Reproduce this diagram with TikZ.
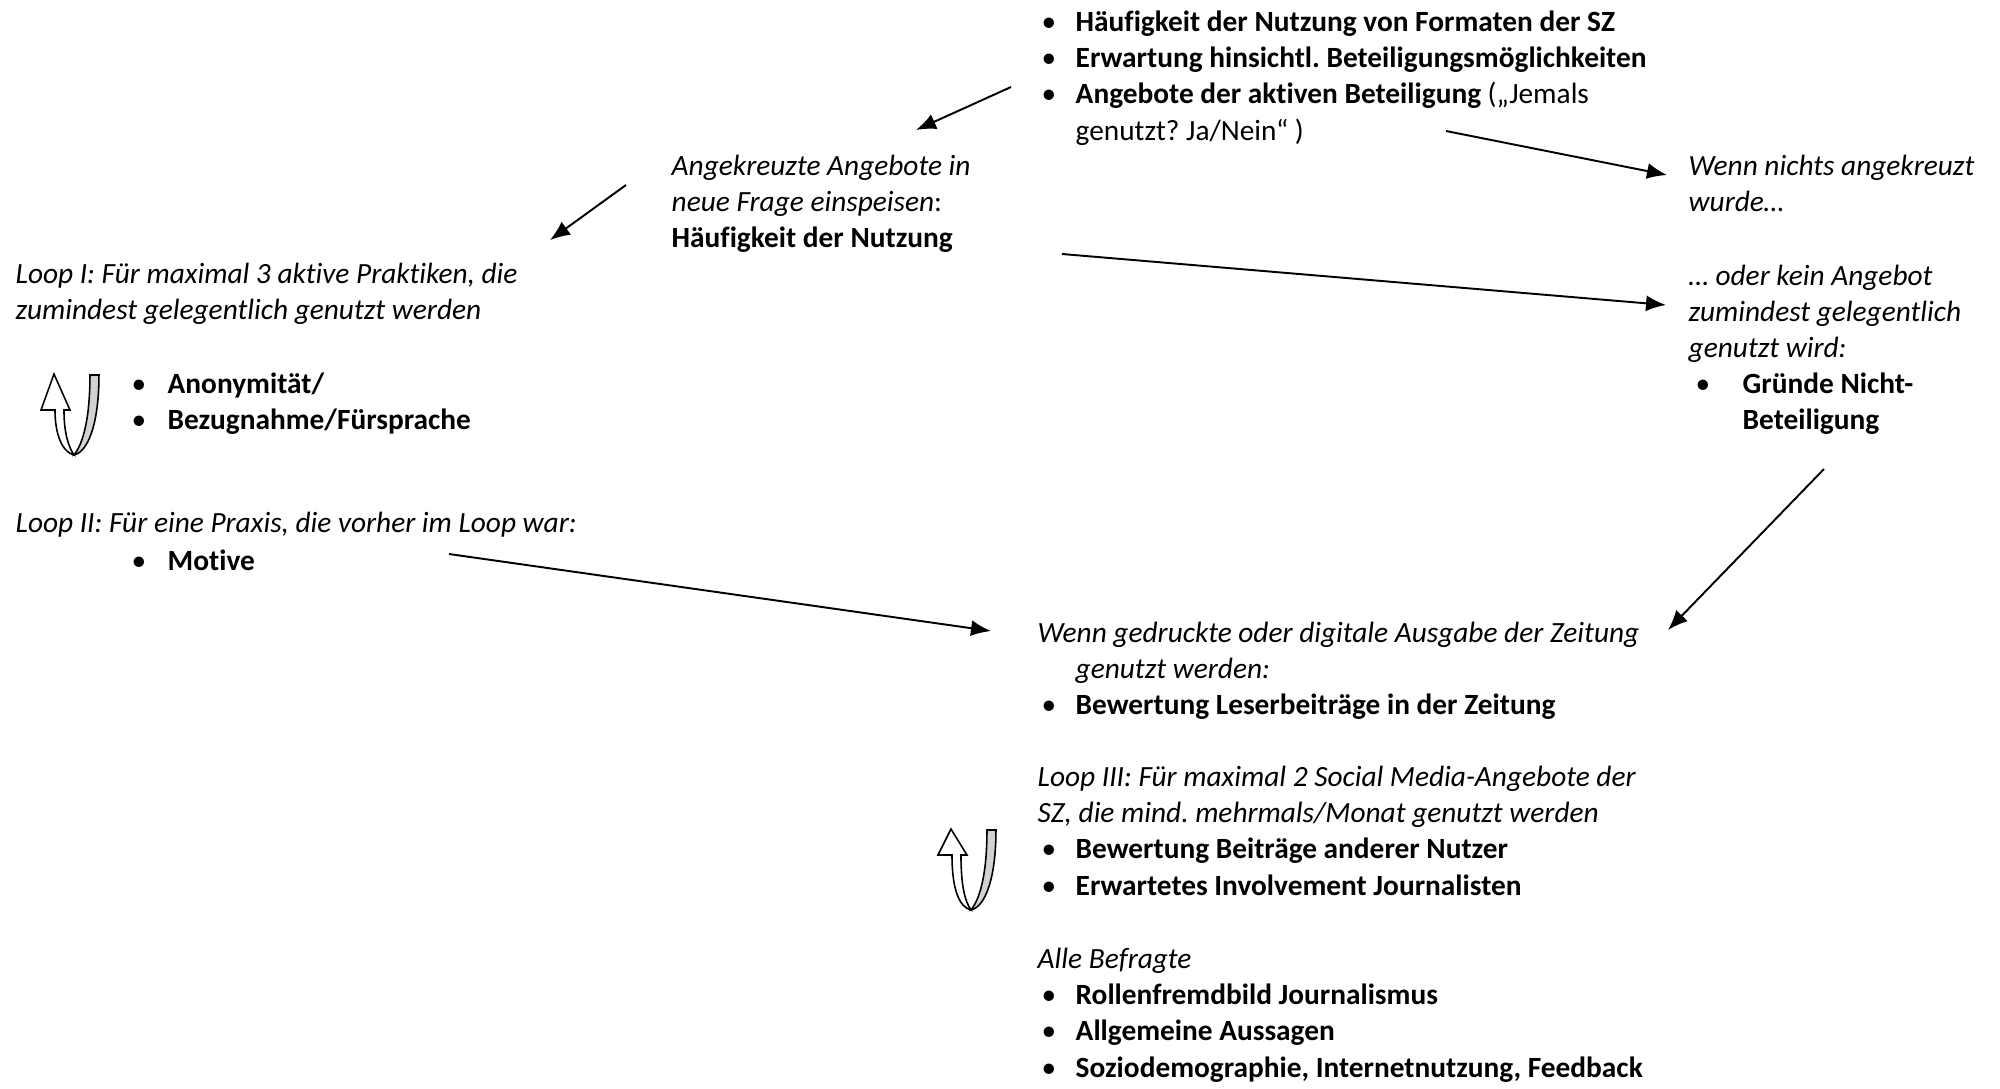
\documentclass[tikz,border=0pt]{standalone}
\usepackage{fontspec}
\setmainfont{Carlito}[Ligatures=NoCommon]
\usepackage{tikz}
\usetikzlibrary{arrows.meta}
\frenchspacing
\tikzset{
  txt/.style={anchor=base west, inner sep=0pt, font=\fontsize{8.35}{10.36}\selectfont},
  arrow/.style={-{Latex[length=2mm,width=1.6mm]}, line width=0.55pt},
  pics/uturn/.style={code={
    \begin{scope}[x=0.01cm, y=-0.01cm, line width=0.45pt, line join=miter]
      \draw[fill=white] (36,81) .. controls (24,78) and (17,60) .. (17,#1) -- (3,#1) -- (16,0)
        -- (32,#1) -- (26,#1) .. controls (26,58) and (30,72) .. (36,81) -- cycle;
      \draw[fill=gray!35] (36,81) .. controls (50,78) and (61,50) .. (61,1) -- (52,1)
        .. controls (52,45) and (45,70) .. (36,81) -- cycle;
    \end{scope}
  }}
}

\begin{document}
\begin{tikzpicture}
  \useasboundingbox (0,0) rectangle (20,-10.88);

  % top block
  \node[txt] (fmt) at (10.41,-0.31) {\begin{tabular}[t]{@{}p{0.34cm}@{}l@{}}
    \textbullet & \textbf{Häufigkeit der Nutzung von Formaten der SZ}\\
    \textbullet & \textbf{Erwartung hinsichtl. Beteiligungsmöglichkeiten}\\
    \textbullet & \textbf{Angebote der aktiven Beteiligung} („Jemals\\
                & genutzt? Ja/Nein“ )
  \end{tabular}};

  \node[txt] (ang) at (6.71,-1.75) {\begin{tabular}[t]{@{}l@{}}
    \textit{Angekreuzte Angebote in}\\
    \textit{neue Frage einspeisen}:\\
    \textbf{Häufigkeit der Nutzung}
  \end{tabular}};

  \node[txt] (nichts) at (16.88,-1.75) {\begin{tabular}[t]{@{}l@{}}
    \textit{Wenn nichts angekreuzt}\\
    \textit{wurde…}
  \end{tabular}};

  \node[txt] (kein) at (16.88,-2.85) {\begin{tabular}[t]{@{}l@{}}
    \textit{… oder kein Angebot}\\
    \textit{zumindest gelegentlich}\\
    \textit{genutzt wird:}
  \end{tabular}};
  \node[txt] (grund) at (16.95,-3.93) {\begin{tabular}[t]{@{}p{0.47cm}@{}l@{}}
    \textbullet & \textbf{Gründe Nicht-}\\
                & \textbf{Beteiligung}
  \end{tabular}};

  % left side
  \node[txt] (loopi) at (0.15,-2.83) {\begin{tabular}[t]{@{}l@{}}
    \textit{Loop I: Für maximal 3 aktive Praktiken, die}\\
    \textit{zumindest gelegentlich genutzt werden}
  \end{tabular}};
  \node[txt] (anon) at (1.31,-3.93) {\begin{tabular}[t]{@{}p{0.36cm}@{}l@{}}
    \textbullet & \textbf{Anonymität/}\\
    \textbullet & \textbf{Bezugnahme/Fürsprache}
  \end{tabular}};
  \pic at (0.38,-3.74) {uturn=36};

  \node[txt] (loopii) at (0.15,-5.32) {\textit{Loop II: Für eine Praxis, die vorher im Loop war:}};
  \node[txt] (motive) at (1.31,-5.70) {\begin{tabular}[t]{@{}p{0.36cm}@{}l@{}}
    \textbullet & \textbf{Motive}
  \end{tabular}};

  % bottom right
  \node[txt] (zeitung) at (10.37,-6.42) {\begin{tabular}[t]{@{}p{0.38cm}@{}l@{}}
    \multicolumn{2}{@{}l@{}}{\textit{Wenn gedruckte oder digitale Ausgabe der Zeitung}}\\
    & \textit{genutzt werden:}\\
    \hspace{0.04cm}\textbullet & \textbf{Bewertung Leserbeiträge in der Zeitung}
  \end{tabular}};

  \node[txt] (loopiii) at (10.37,-7.86) {\begin{tabular}[t]{@{}p{0.38cm}@{}l@{}}
    \multicolumn{2}{@{}l@{}}{\textit{Loop III: Für maximal 2 Social Media-Angebote der}}\\
    \multicolumn{2}{@{}l@{}}{\textit{SZ, die mind. mehrmals/Monat genutzt werden}}\\
    \hspace{0.04cm}\textbullet & \textbf{Bewertung Beiträge anderer Nutzer}\\
    \hspace{0.04cm}\textbullet & \textbf{Erwartetes Involvement Journalisten}
  \end{tabular}};
  \pic at (9.35,-8.29) {uturn=26};

  \node[txt] (alle) at (10.37,-9.68) {\begin{tabular}[t]{@{}p{0.38cm}@{}l@{}}
    \multicolumn{2}{@{}l@{}}{\textit{Alle Befragte}}\\
    \hspace{0.04cm}\textbullet & \textbf{Rollenfremdbild Journalismus}\\
    \hspace{0.04cm}\textbullet & \textbf{Allgemeine Aussagen}\\
    \hspace{0.04cm}\textbullet & \textbf{Soziodemographie, Internetnutzung, Feedback}
  \end{tabular}};

  % arrow ends
  \coordinate (fmtL) at (10.11,-0.87);
  \coordinate (angT) at (9.16,-1.30);
  \coordinate (angL) at (6.26,-1.85);
  \coordinate (loopiT) at (5.50,-2.40);
  \coordinate (fmtR) at (14.46,-1.31);
  \coordinate (nichtsL) at (16.67,-1.75);
  \coordinate (angR) at (10.62,-2.54);
  \coordinate (keinL) at (16.66,-3.05);
  \coordinate (grundB) at (18.24,-4.69);
  \coordinate (zeitungR) at (16.68,-6.30);
  \coordinate (motiveR) at (4.49,-5.54);
  \coordinate (zeitungL) at (9.91,-6.31);

  \draw[arrow] (fmtL) -- (angT);
  \draw[arrow] (angL) -- (loopiT);
  \draw[arrow] (fmtR) -- (nichtsL);
  \draw[arrow] (angR) -- (keinL);
  \draw[arrow] (grundB) -- (zeitungR);
  \draw[arrow] (motiveR) -- (zeitungL);
\end{tikzpicture}
\end{document}
